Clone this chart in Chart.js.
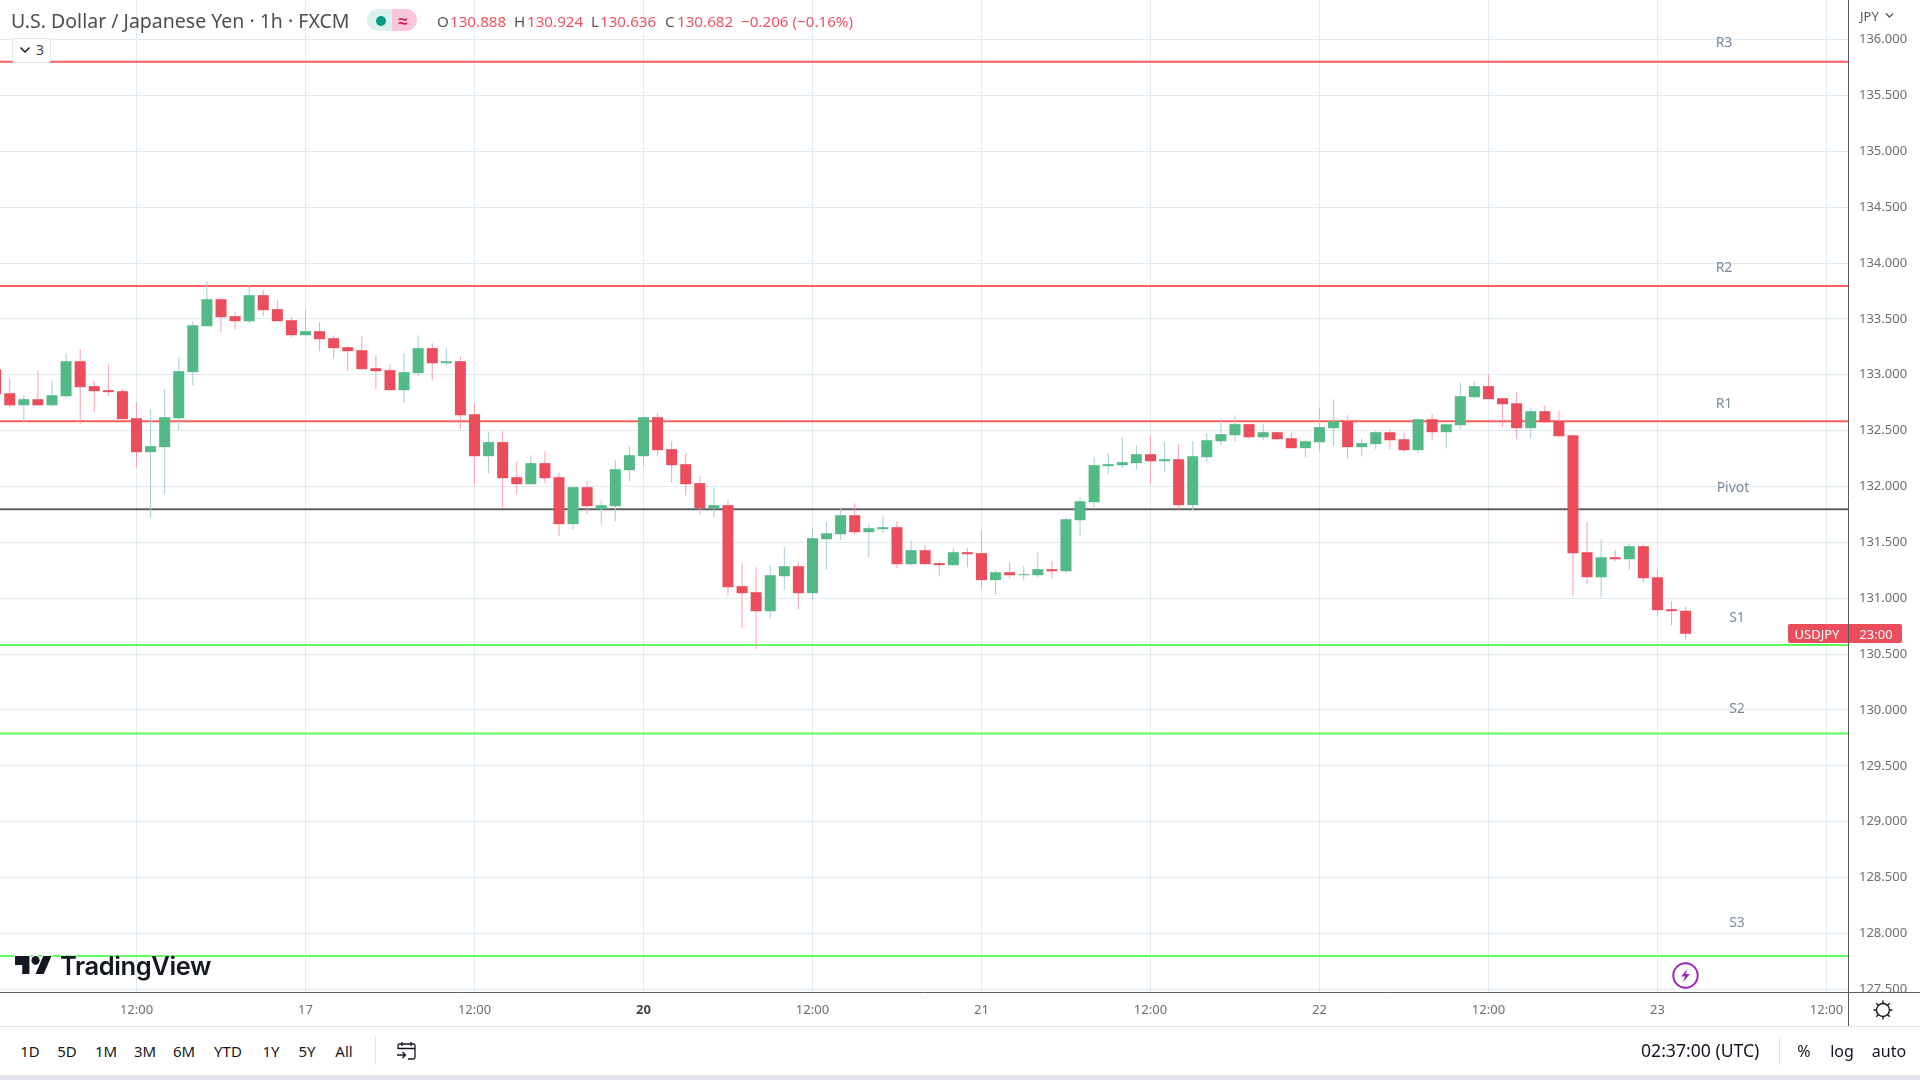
<!DOCTYPE html>
<html><head><meta charset="utf-8">
<script src="https://cdn.jsdelivr.net/npm/chart.js@4/dist/chart.umd.min.js"></script>
<style>
html,body{margin:0;padding:0;width:1920px;height:1080px;background:#fff;overflow:hidden;font-family:"Noto Sans",sans-serif}
canvas{position:absolute;left:0;top:0;display:block}
.t{position:absolute;white-space:nowrap;line-height:1;transform:translateY(-50%)}
.c{transform:translate(-50%,-50%)}
.box{position:absolute}
.lvl{font-size:14px;color:#7a8b9c}
.ohl{font-size:15.2px;color:#ef5360}
.ohk{font-size:15.2px;color:#555}
.rng{font-size:15px;color:#131722}
.btm{font-size:16px;color:#131722}
</style></head><body>
<canvas id="c" width="1920" height="1027"></canvas>

<div class="t" style="left:11px;top:21px;font-size:19.5px;color:#4e4e4e">U.S. Dollar / Japanese Yen · 1h · FXCM</div>
<div class="box" style="left:367px;top:9px;width:25px;height:22px;background:#dcf1ee;border-radius:11px 0 0 11px"></div>
<div class="box" style="left:392px;top:9px;width:25px;height:22px;background:#fbc5d8;border-radius:0 11px 11px 0"></div>
<div class="box" style="left:376px;top:16px;width:10px;height:10px;background:#089981;border-radius:50%"></div>
<div class="t c" style="left:403px;top:20px;font-size:17px;color:#d0185c;font-weight:700">≈</div>
<div class="t ohk" style="left:437px;top:22px">O</div><div class="t ohl" style="left:450px;top:22px">130.888</div>
<div class="t ohk" style="left:514px;top:22px">H</div><div class="t ohl" style="left:527px;top:22px">130.924</div>
<div class="t ohk" style="left:591px;top:22px">L</div><div class="t ohl" style="left:600px;top:22px">130.636</div>
<div class="t ohk" style="left:665px;top:22px">C</div><div class="t ohl" style="left:677px;top:22px">130.682</div>
<div class="t ohl" style="left:741px;top:22px">−0.206 (−0.16%)</div>

<div class="box" style="left:12px;top:38px;width:39px;height:25px;background:#fff;border:1px solid #e4e6ec;border-radius:3px;box-sizing:border-box"></div>
<svg class="box" style="left:19px;top:46px" width="12" height="8"><path d="M1.5 1.5 6 6l4.5-4.5" fill="none" stroke="#131722" stroke-width="1.5"/></svg>
<div class="t c" style="left:40px;top:50px;font-size:14px;color:#444">3</div>

<div class="t" style="left:1860px;top:16px;font-size:13px;color:#555">JPY</div>
<svg class="box" style="left:1885px;top:12px" width="9" height="7"><path d="M1 1.5 4.5 5 8 1.5" fill="none" stroke="#555" stroke-width="1.3"/></svg>

<div class="t c lvl" style="left:1724px;top:42px">R3</div>
<div class="t c lvl" style="left:1724px;top:267px">R2</div>
<div class="t c lvl" style="left:1724px;top:403px">R1</div>
<div class="t c lvl" style="left:1733px;top:487px">Pivot</div>
<div class="t c lvl" style="left:1737px;top:617px">S1</div>
<div class="t c lvl" style="left:1737px;top:708px">S2</div>
<div class="t c lvl" style="left:1737px;top:922px">S3</div>

<div class="box" style="left:1788px;top:624px;width:114px;height:19px;background:#eb4d5c;border-radius:2px"></div>
<div class="box" style="left:1848px;top:624px;width:1px;height:19px;background:#5a5a5a"></div>
<div class="t c" style="left:1817px;top:634px;font-size:13px;color:#fff">USDJPY</div>
<div class="t c" style="left:1876px;top:634px;font-size:13px;color:#fff">23:00</div>

<svg class="box" style="left:13px;top:954px;overflow:visible" width="41" height="23" viewBox="-2 4.3 40 20.4" preserveAspectRatio="none"><g fill="#131722" stroke="#fff" stroke-width="2" paint-order="stroke"><path d="M14 6H0v8h7v8h7V6Z"/><circle cx="20" cy="10" r="4"/><path d="M28 22h-8l7.5-16h8L28 22Z"/></g></svg>
<div class="t" style="left:60px;top:966px;font-family:Inter,sans-serif;font-size:25.5px;font-weight:600;color:#131722;letter-spacing:-.4px;text-shadow:0 0 2px #fff,0 0 2px #fff">TradingView</div>

<svg class="box" style="left:1671px;top:961px" width="29" height="29" viewBox="0 0 29 29"><circle cx="14.5" cy="14.5" r="12.2" fill="#fff" stroke="#9c27b0" stroke-width="2"/><path d="M16.5 8 10 15.5h4L12 21l7-8h-4.2Z" fill="#9c27b0"/></svg>

<!-- corner under the price scale: clips the lowest price label -->
<div class="box" style="left:1849px;top:993px;width:71px;height:33px;background:#fff"></div>
<div class="box" style="left:1848px;top:992px;width:72px;height:1px;background:#5a5a5a"></div>
<div class="box" style="left:1848px;top:992px;width:1px;height:34px;background:#5a5a5a"></div>
<svg class="box" style="left:1872px;top:999px" width="22" height="22" viewBox="0 0 22 22"><circle cx="11" cy="11" r="6.5" fill="none" stroke="#131722" stroke-width="1.4"/><g stroke="#131722" stroke-width="1.4"><path d="M11 1.5v3M11 17.5v3M1.5 11h3M17.5 11h3M4.3 4.3l2 2M15.7 15.7l2 2M4.3 17.7l2-2M15.7 6.3l2-2"/></g></svg>

<!-- bottom toolbar -->
<div class="box" style="left:0;top:1026px;width:1920px;height:1px;background:#e0e3eb"></div>
<div class="t c rng" style="left:30px;top:1051px">1D</div>
<div class="t c rng" style="left:67px;top:1051px">5D</div>
<div class="t c rng" style="left:106px;top:1051px">1M</div>
<div class="t c rng" style="left:145px;top:1051px">3M</div>
<div class="t c rng" style="left:184px;top:1051px">6M</div>
<div class="t c rng" style="left:228px;top:1051px">YTD</div>
<div class="t c rng" style="left:271px;top:1051px">1Y</div>
<div class="t c rng" style="left:307px;top:1051px">5Y</div>
<div class="t c rng" style="left:344px;top:1051px">All</div>
<div class="box" style="left:375px;top:1037px;width:1px;height:28px;background:#e0e3eb"></div>
<svg class="box" style="left:396px;top:1041px" width="21" height="20" viewBox="0 0 21 20"><path d="M2 8V4.5A1.5 1.5 0 0 1 3.5 3h14A1.5 1.5 0 0 1 19 4.5v12a1.5 1.5 0 0 1-1.5 1.5H12M2 7.5h17M6 1v4M15 1v4M1 14h8M6.5 11l3 3-3 3" fill="none" stroke="#131722" stroke-width="1.3"/></svg>
<div class="t btm" style="left:1641px;top:1051px;font-size:17.6px">02:37:00 (UTC)</div>
<div class="box" style="left:1779px;top:1037px;width:1px;height:28px;background:#e0e3eb"></div>
<div class="t c btm" style="left:1804px;top:1051px">%</div>
<div class="t c btm" style="left:1842px;top:1051px">log</div>
<div class="t c btm" style="left:1889px;top:1051px">auto</div>
<div class="box" style="left:0;top:1075px;width:1920px;height:5px;background:#e0e3eb"></div>

<script>
const firstHour = -10;
const opens = [133.05,132.835,132.727,132.781,132.727,132.808,133.121,132.898,132.862,132.853,
132.611,132.307,132.352,132.611,133.023,133.434,133.676,133.524,133.479,133.712,133.587,133.488,133.354,133.390,133.327,133.247,133.220,133.059,133.041,132.862,133.014,133.238,133.103,133.121,
132.647,132.271,132.397,132.083,132.021,132.209,132.083,131.663,131.994,131.797,131.824,132.146,132.271,132.620,132.334,132.200,132.030,131.803,131.833,131.108,131.054,130.884,131.197,131.287,
131.045,131.528,131.573,131.743,131.591,131.618,131.636,131.305,131.430,131.314,131.296,131.412,131.403,131.162,131.233,131.206,131.206,131.260,131.242,131.698,131.859,132.182,132.191,132.209,
132.289,132.226,132.244,131.833,132.262,132.405,132.459,132.558,132.441,132.486,132.432,132.343,132.396,132.522,132.584,132.352,132.379,132.486,132.423,132.325,132.602,132.486,132.548,132.799,
132.898,132.790,132.745,132.522,132.674,132.584,132.459,131.412,131.188,131.367,131.349,131.466,131.188,130.902,130.888];
const highs = [133.08,132.969,132.817,133.041,132.951,133.193,133.229,132.942,133.094,132.871,
132.754,132.692,132.871,133.157,133.479,133.837,133.685,133.560,133.801,133.757,133.667,133.515,133.587,133.470,133.354,133.255,133.345,133.175,133.094,133.193,133.354,133.282,133.238,133.166,
132.745,132.486,132.495,132.226,132.280,132.316,132.119,132.003,132.048,131.877,132.235,132.361,132.638,132.656,132.405,132.298,132.092,131.994,131.877,131.314,131.278,131.296,131.457,131.323,
131.627,131.681,131.815,131.851,131.672,131.743,131.690,131.519,131.475,131.323,131.448,131.448,131.609,131.251,131.323,131.287,131.412,131.332,131.725,131.904,132.262,132.298,132.441,132.370,
132.459,132.396,132.379,132.405,132.477,132.602,132.638,132.558,132.558,132.495,132.486,132.414,132.710,132.781,132.638,132.432,132.504,132.513,132.477,132.602,132.647,132.557,132.933,132.942,
133.005,132.799,132.844,132.701,132.728,132.674,132.468,131.680,131.528,131.430,131.493,131.484,131.251,130.974,130.924];
const lows = [132.80,132.710,132.566,132.719,132.719,132.790,132.558,132.665,132.808,132.602,
132.173,131.725,131.931,132.504,132.906,133.434,133.381,133.408,133.461,133.524,133.479,133.336,133.354,133.211,133.148,133.032,133.050,132.871,132.862,132.745,132.987,132.951,133.077,132.513,
132.021,132.119,131.815,131.931,132.021,132.030,131.555,131.618,131.752,131.663,131.690,132.048,132.182,132.271,132.039,131.922,131.752,131.725,131.027,130.732,130.544,130.821,131.072,130.902,
130.983,131.260,131.519,131.573,131.367,131.582,131.269,131.296,131.296,131.197,131.287,131.278,131.099,131.036,131.179,131.162,131.188,131.179,131.233,131.555,131.797,132.110,132.164,132.155,
132.021,132.128,131.797,131.788,132.218,132.370,132.405,132.423,132.414,132.414,132.343,132.262,132.316,132.370,132.253,132.271,132.334,132.334,132.307,132.298,132.414,132.343,132.513,132.790,
132.781,132.540,132.423,132.432,132.575,132.441,131.018,131.126,131.009,131.332,131.251,131.144,130.839,130.759,130.636];
const closes = [132.826,132.727,132.781,132.727,132.817,133.121,132.889,132.853,132.844,132.602,
132.307,132.361,132.620,133.032,133.443,133.676,133.515,133.479,133.712,133.578,133.479,133.354,133.390,133.318,133.238,133.211,133.050,133.032,132.862,133.023,133.238,133.103,133.121,132.638,
132.271,132.397,132.074,132.021,132.209,132.074,131.663,131.994,131.824,131.833,132.155,132.280,132.620,132.325,132.191,132.021,131.806,131.833,131.099,131.045,130.884,131.206,131.287,131.045,
131.537,131.582,131.743,131.591,131.627,131.636,131.305,131.430,131.305,131.296,131.412,131.394,131.162,131.233,131.206,131.215,131.260,131.242,131.707,131.868,132.191,132.200,132.218,132.289,
132.226,132.244,131.833,132.271,132.414,132.468,132.558,132.441,132.486,132.423,132.343,132.405,132.531,132.584,132.352,132.388,132.486,132.414,132.325,132.602,132.486,132.557,132.808,132.898,
132.781,132.736,132.522,132.674,132.575,132.450,131.403,131.188,131.367,131.349,131.466,131.179,130.893,130.884,130.682];

const levelNames = ['R3','R2','R1','Pivot','S1','S2','S3'];
const levelPrices = [135.80,133.795,132.584,131.797,130.582,129.79,127.798];
const priceTicks = [127.5,128,128.5,129,129.5,130,130.5,131,131.5,132,132.5,133,133.5,134,134.5,135,135.5,136];
const timeTickHours = [0,12,24,36,48,60,72,84,96,108,120];
const timeTickLabels = ['12:00','17','12:00','20','12:00','21','12:00','22','12:00','23','12:00'];
const boldTimeLabel = '20';

const HOUR_PX = 14.083, FIRST_TICK_PX = 136.5, PLOT_R = 1848, PLOT_B = 992, PX_PER_UNIT = 111.75, P136_PX = 39.5;
const xMin = -FIRST_TICK_PX/HOUR_PX, xMax = (PLOT_R-FIRST_TICK_PX)/HOUR_PX;
const yMax = 136 + P136_PX/PX_PER_UNIT, yMin = 136 - (PLOT_B-P136_PX)/PX_PER_UNIT;

const UP='#53b987', DOWN='#eb4d5c', UPW='#a5cdd2', DOWNW='#f99fae';
const hours = opens.map((_,i)=>firstHour+i);
const isUp = i => closes[i] >= opens[i];
const levelColor = n => n==='Pivot' ? '#5f5f5f' : n[0]==='R' ? '#ff5c5c' : '#5cff5c';

const datasets = [
  {type:'bar',label:'bodies',order:1,grouped:false,barThickness:11,inflateAmount:0,borderWidth:0,
   data:hours.map((h,i)=>({x:h,y:[opens[i],closes[i]]})),
   backgroundColor:hours.map((_,i)=>isUp(i)?UP:DOWN)},
  {type:'bar',label:'wicks',order:2,grouped:false,barThickness:1,inflateAmount:0,borderWidth:0,
   data:hours.map((h,i)=>({x:h,y:[lows[i],highs[i]]})),
   backgroundColor:hours.map((_,i)=>isUp(i)?UPW:DOWNW)},
  ...levelNames.map((n,k)=>({type:'line',label:n,order:3,borderColor:levelColor(n),borderWidth:2,pointRadius:0,
    data:[{x:xMin,y:levelPrices[k]},{x:xMax,y:levelPrices[k]}]}))
];

new Chart(document.getElementById('c'),{
  data:{datasets},
  options:{
    responsive:false,devicePixelRatio:1,animation:false,
    layout:{padding:0},
    plugins:{legend:{display:false},tooltip:{enabled:false},title:{display:false}},
    scales:{
      x:{type:'linear',min:xMin,max:xMax,position:'bottom',offset:false,
        afterFit:s=>{s.height=35;s.paddingLeft=0;s.paddingRight=0;},
        afterBuildTicks:s=>{s.ticks=timeTickHours.map(v=>({value:v}));},
        grid:{color:'#e1ebf2',lineWidth:1,drawTicks:false,offset:false},
        border:{color:'#5a5a5a',width:1},
        ticks:{autoSkip:false,maxRotation:0,padding:10,
          color:c=>c.tick&&timeTickLabels[timeTickHours.indexOf(c.tick.value)]===boldTimeLabel?'#444':'#6e6e6e',
          font:c=>({family:'"Noto Sans"',size:13,weight:c.tick&&timeTickLabels[timeTickHours.indexOf(c.tick.value)]===boldTimeLabel?'700':'400'}),
          callback:v=>timeTickLabels[timeTickHours.indexOf(v)]}},
      y:{type:'linear',min:yMin,max:yMax,position:'right',
        afterFit:s=>{s.width=72;s.paddingTop=0;s.paddingBottom=0;},
        afterBuildTicks:s=>{s.ticks=priceTicks.map(v=>({value:v}));},
        grid:{color:'#e1ebf2',lineWidth:1,drawTicks:false},
        border:{color:'#5a5a5a',width:1},
        ticks:{autoSkip:false,padding:11,color:'#6e6e6e',
          font:{family:'"Noto Sans"',size:13},
          callback:v=>Number(v).toFixed(3)}}
    }
  }
});
</script>
</body></html>
